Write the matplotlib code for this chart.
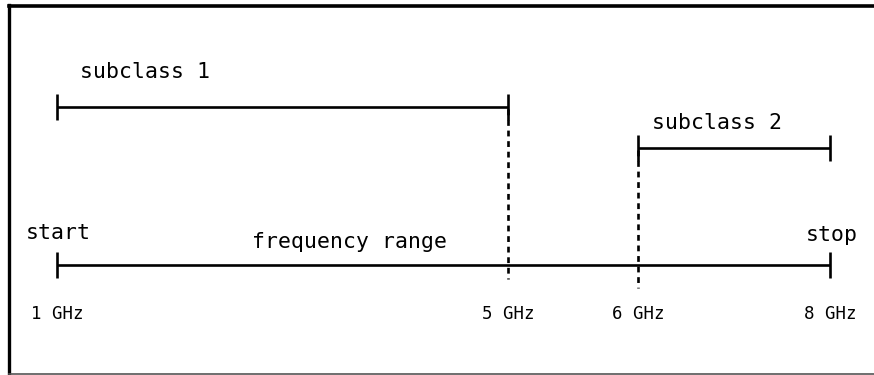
import matplotlib.pyplot as plt

plt.rcParams['font.family'] = ['DejaVu Sans Mono']

# diagram positions (schematic, pixels) for each marked frequency
freq_labels = ["1 GHz", "5 GHz", "6 GHz", "8 GHz"]
freq_x = [57, 508, 638, 830]

# bands: (label, start index, end index, line y)
main_y = 265
sub1 = ("subclass 1", 0, 1, 107)
sub2 = ("subclass 2", 2, 3, 148)

fig = plt.figure(figsize=(8.74, 3.75), dpi=100)
ax = fig.add_axes([0, 0, 1, 1])
ax.set_xlim(0, 874)
ax.set_ylim(375, 0)
ax.axis("off")

lw = 1.9
tick = 13


def band(x0, x1, y):
    ax.plot([x0, x1], [y, y], color="black", lw=lw, solid_capstyle="butt")
    for x in (x0, x1):
        ax.plot([x, x], [y - tick, y + tick], color="black", lw=lw, solid_capstyle="butt")


# frame (left, top, bottom)
ax.plot([9, 9], [5, 374], color="black", lw=2.4)
ax.plot([9, 874], [5.5, 5.5], color="black", lw=2.6)
ax.plot([9, 874], [373.5, 373.5], color="#555555", lw=1.2)

# main frequency range
band(freq_x[0], freq_x[-1], main_y)
ax.text(58, 233, "start", ha="center", va="center", fontsize=15.5)
ax.text(832, 235, "stop", ha="center", va="center", fontsize=15.5)
ax.text(349, 242, "frequency range", ha="center", va="center", fontsize=15.5)

# subclass bands
for name, i0, i1, y in (sub1, sub2):
    band(freq_x[i0], freq_x[i1], y)
ax.text(80, 72, sub1[0], ha="left", va="center", fontsize=15.5)
ax.text(652, 123, sub2[0], ha="left", va="center", fontsize=15.5)

# dotted dividers
ax.plot([freq_x[1], freq_x[1]], [sub1[3] + 2, 279], color="black", lw=1.9,
        linestyle=(0, (2.2, 1.8)))
ax.plot([freq_x[2], freq_x[2]], [sub2[3] + 2, 288], color="black", lw=1.9,
        linestyle=(0, (2.2, 1.8)))

# frequency tick labels
for lab, x in zip(freq_labels, freq_x):
    ax.text(x, 314, lab, ha="center", va="center", fontsize=12.5)

fig.savefig("out.png", dpi=100)
